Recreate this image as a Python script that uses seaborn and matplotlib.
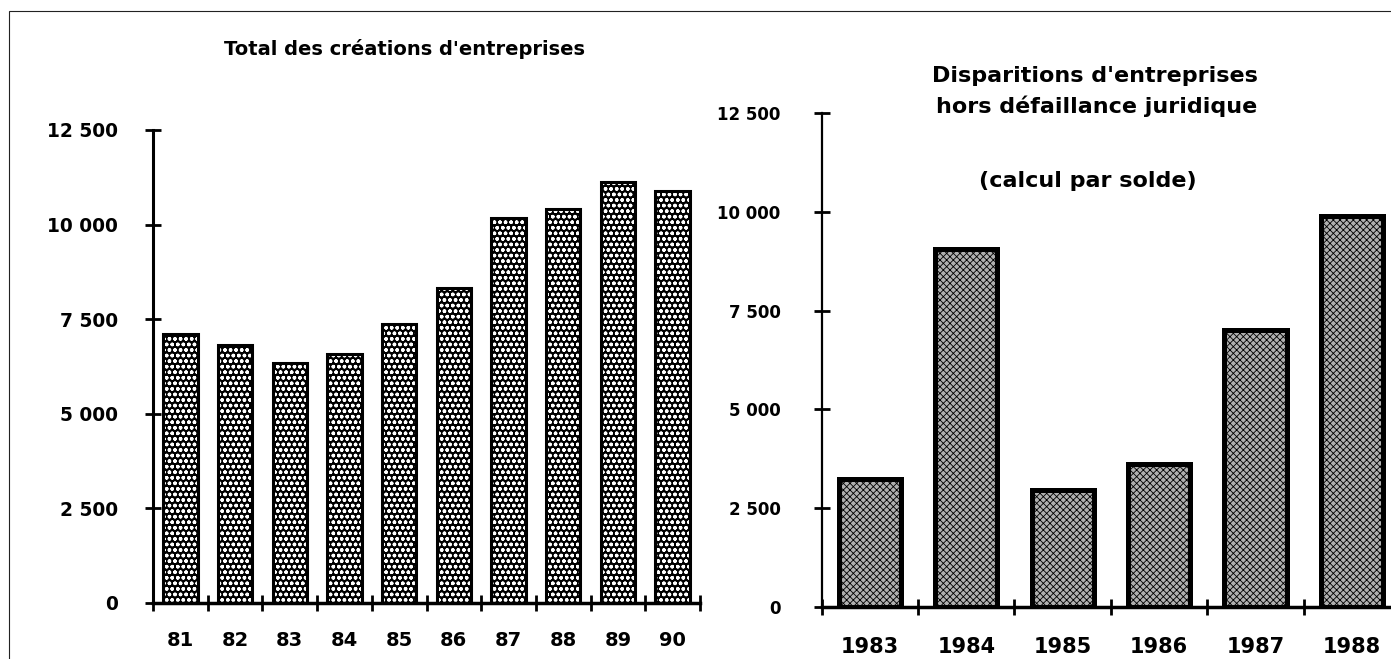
import numpy as np
import pandas as pd
import matplotlib
matplotlib.use("Agg")
import matplotlib.pyplot as plt
from matplotlib.ticker import FuncFormatter, FixedLocator
from matplotlib.patches import Rectangle, Patch
import seaborn as sns

# ---- data ----
left_years = ["81", "82", "83", "84", "85", "86", "87", "88", "89", "90"]
left_values = [7120, 6830, 6340, 6570, 7370, 8330, 10170, 10420, 11120, 10890]
right_years = ["1983", "1984", "1985", "1986", "1987", "1988"]
right_values = [3250, 9050, 2950, 3620, 7020, 9900]
y_ticks = [0, 2500, 5000, 7500, 10000, 12500]
left_title = "Total des créations d'entreprises"
right_title_1 = "Disparitions d'entreprises"
right_title_2 = "hors défaillance juridique"
right_subtitle = "(calcul par solde)"

sns.set_style("white")
plt.rcParams['font.family'] = ['DejaVu Sans']
plt.rcParams['font.weight'] = 'bold'
plt.rcParams['hatch.linewidth'] = 1.0
for k in ("text.color", "axes.labelcolor", "xtick.color", "ytick.color", "axes.edgecolor"):
    plt.rcParams[k] = "black"

W, H = 1391, 659
fig = plt.figure(figsize=(W / 100, H / 100), dpi=100)


def fx(px):
    return px / W


def fy(py):
    return 1 - py / H


ax1 = fig.add_axes([fx(153), fy(603), (700 - 153) / W, (603 - 130) / H])
ax2 = fig.add_axes([fx(821.7), fy(607), (1400 - 821.7) / W, (607 - 113) / H])

df1 = pd.DataFrame({"year": left_years, "value": left_values})
df2 = pd.DataFrame({"year": right_years, "value": right_values})

# left chart: black bars with white dots
sns.barplot(data=df1, x="year", y="value", color="black", saturation=1,
            width=0.63, errorbar=None, ax=ax1)
for p in ax1.patches:
    p.set_facecolor("black")
    p.set_edgecolor("white")
    p.set_linewidth(0)
    p.set_hatch("ooo")
n1 = len(ax1.patches)
sns.barplot(data=df1, x="year", y="value", color="black", saturation=1,
            width=0.63, errorbar=None, fill=False, ax=ax1)
for p in ax1.patches[n1:]:
    p.set_facecolor("none")
    p.set_edgecolor("black")
    p.set_linewidth(2.2)

# right chart: fine grey checker bars with thick black edge
has_hlw = hasattr(Patch, "set_hatch_linewidth")
sns.barplot(data=df2, x="year", y="value", color="#b0b0b0" if has_hlw else "#8a8a8a",
            saturation=1, width=0.645, errorbar=None, ax=ax2)
for p in ax2.patches:
    p.set_facecolor("#b0b0b0" if has_hlw else "#8a8a8a")
    p.set_edgecolor("black")
    p.set_linewidth(3.6)
    if has_hlw:
        p.set_hatch("xxxxx")
        p.set_hatch_linewidth(0.6)

fmt = FuncFormatter(lambda v, pos: f"{int(v):,}".replace(",", " "))

for ax, labels, ylab_size, ypad, xlab_size, xpad, lw_y in [
        (ax1, left_years, 13.4, 19.7, 14, 20, 2.2),
        (ax2, right_years, 12, 24, 15, 21.6, 1.6)]:
    n = len(labels)
    ax.set_xlim(-0.5, n - 0.5)
    ax.set_ylim(0, 12500)
    ax.set_xlabel("")
    ax.set_ylabel("")
    for s in ("top", "right"):
        ax.spines[s].set_visible(False)
    ax.spines["left"].set_linewidth(lw_y)
    ax.spines["bottom"].set_linewidth(2.5)
    ax.spines["left"].set_color("black")
    ax.spines["bottom"].set_color("black")
    ax.yaxis.set_major_locator(FixedLocator(y_ticks))
    ax.yaxis.set_major_formatter(fmt)
    ax.tick_params(axis="y", which="major", direction="inout", length=11, width=2,
                   labelsize=ylab_size, pad=ypad, color="black", labelcolor="black", left=True)
    ax.set_xticks(range(n))
    ax.set_xticklabels(labels)
    ax.tick_params(axis="x", which="major", direction="out", length=0,
                   labelsize=xlab_size, pad=xpad, labelcolor="black", bottom=True)
    ax.set_xticks(np.arange(-0.5, n, 1.0), minor=True)
    ax.tick_params(axis="x", which="minor", direction="inout", length=11, width=2,
                   color="black", bottom=True)
    ax.set_facecolor("none")

fig.text(fx(404.5), fy(49), left_title, ha="center", va="center", fontsize=14,
         fontweight="bold", color="black")
fig.text(fx(1095), fy(76), right_title_1, ha="center", va="center", fontsize=16,
         fontweight="bold", color="black")
fig.text(fx(1097), fy(106), right_title_2, ha="center", va="center", fontsize=16,
         fontweight="bold", color="black")
fig.text(fx(1088), fy(181), right_subtitle, ha="center", va="center", fontsize=16,
         fontweight="bold", color="black")

frame = Rectangle((fx(9), -0.05), 1.2, fy(11) + 0.05, transform=fig.transFigure,
                  fill=False, linewidth=0.8, edgecolor="#222222")
fig.add_artist(frame)

fig.savefig("out.png", dpi=100)
